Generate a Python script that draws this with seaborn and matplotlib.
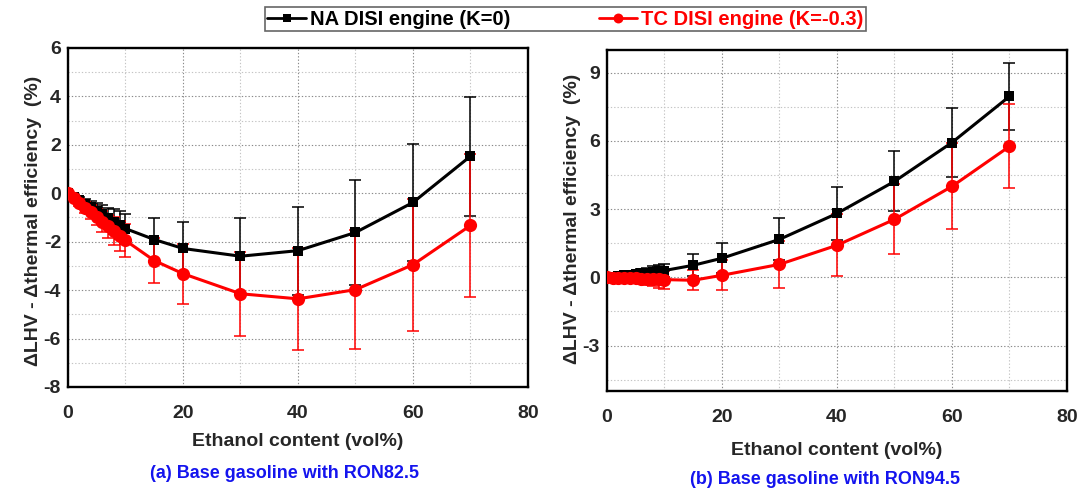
import matplotlib

matplotlib.use("Agg")
import matplotlib.pyplot as plt
import pandas as pd
import seaborn as sns
from matplotlib.lines import Line2D
from matplotlib.ticker import MultipleLocator

ethanol = [0, 1, 2, 3, 4, 5, 6, 7, 8, 9, 10, 15, 20, 30, 40, 50, 60, 70]

# (a) base gasoline RON82.5
na_a = [0, -0.15, -0.29, -0.44, -0.58, -0.73, -0.87, -1.02, -1.17, -1.31, -1.46,
        -1.91, -2.28, -2.60, -2.37, -1.62, -0.38, 1.53]
na_a_err = [0, 0.06, 0.12, 0.19, 0.25, 0.31, 0.37, 0.43, 0.50, 0.56, 0.62,
            0.87, 1.08, 1.56, 1.82, 2.15, 2.40, 2.45]
tc_a = [0, -0.20, -0.39, -0.59, -0.78, -0.98, -1.17, -1.37, -1.56, -1.76, -1.95,
        -2.78, -3.32, -4.15, -4.36, -3.98, -2.95, -1.33]
tc_a_err = [0, 0.07, 0.14, 0.21, 0.28, 0.35, 0.42, 0.49, 0.56, 0.63, 0.70,
            0.92, 1.24, 1.74, 2.11, 2.45, 2.73, 2.94]

# (b) base gasoline RON94.5
na_b = [0, 0.03, 0.06, 0.09, 0.12, 0.15, 0.18, 0.21, 0.24, 0.27, 0.30,
        0.53, 0.84, 1.67, 2.81, 4.22, 5.93, 7.96]
na_b_err = [0, 0.03, 0.06, 0.09, 0.12, 0.15, 0.18, 0.21, 0.24, 0.27, 0.30,
            0.48, 0.65, 0.92, 1.15, 1.32, 1.50, 1.49]
tc_b = [0, -0.01, -0.02, -0.03, -0.04, -0.05, -0.06, -0.07, -0.08, -0.09, -0.10,
        -0.13, 0.09, 0.57, 1.41, 2.55, 4.00, 5.76]
tc_b_err = [0, 0.04, 0.08, 0.12, 0.16, 0.20, 0.24, 0.28, 0.32, 0.36, 0.40,
            0.44, 0.66, 1.05, 1.37, 1.54, 1.89, 1.85]

series_names = ["NA DISI engine (K=0)", "TC DISI engine (K=-0.3)"]
subtitles = ["(a) Base gasoline with RON82.5", "(b) Base gasoline with RON94.5"]

sns.set_style("white")
plt.rcParams["font.family"] = ["Liberation Sans", "DejaVu Sans"]
plt.rcParams["font.weight"] = "bold"
plt.rcParams["axes.unicode_minus"] = False

fig = plt.figure(figsize=(10.81, 4.88), dpi=100)
ax_a = fig.add_axes([0.0629, 0.207, 0.4255, 0.6947])
ax_b = fig.add_axes([0.5615, 0.1988, 0.4255, 0.6987])

styles = [
    {"color": "black", "marker": "s", "ms": 7.5},
    {"color": "red", "marker": "o", "ms": 9.5},
]


def draw_panel(ax, series, ylim, ymajor, yminor):
    for (values, errors), name, style in zip(series, series_names, styles):
        frame = pd.DataFrame({"ethanol": ethanol, "value": values})
        ax.errorbar(ethanol, values, yerr=errors, fmt="none", ecolor=style["color"],
                    elinewidth=1.1, capsize=4, capthick=1.1, zorder=2)
        sns.lineplot(data=frame, x="ethanol", y="value", ax=ax, color=style["color"],
                     marker=style["marker"], markersize=style["ms"], markeredgewidth=0,
                     linewidth=2.2, label=name, legend=False, zorder=3)
    ax.set_xlim(0, 80)
    ax.set_ylim(*ylim)
    ax.xaxis.set_major_locator(MultipleLocator(20))
    ax.xaxis.set_minor_locator(MultipleLocator(10))
    ax.yaxis.set_major_locator(MultipleLocator(ymajor))
    ax.yaxis.set_minor_locator(MultipleLocator(yminor))
    ax.grid(True, which="major", color="#8a8a8a", linestyle=(0, (1.2, 1.8)), linewidth=0.8)
    ax.grid(True, which="minor", color="#c4c4c4", linestyle=(0, (1.2, 1.8)), linewidth=0.8)
    ax.set_axisbelow(True)
    ax.tick_params(axis="x", which="major", direction="out", length=6, width=1.6,
                   labelsize=14, pad=7, top=False)
    ax.tick_params(axis="x", which="minor", direction="out", length=5, width=1.6, top=False)
    ax.tick_params(axis="y", which="major", direction="in", length=6, width=1.6,
                   labelsize=14, pad=5, right=False)
    ax.tick_params(axis="y", which="minor", direction="in", length=5, width=1.6, right=False)
    for label in ax.get_xticklabels() + ax.get_yticklabels():
        label.set_fontweight("bold")
    for spine in ax.spines.values():
        spine.set_linewidth(1.7)
        spine.set_color("black")
    ax.set_xlabel("Ethanol content (vol%)", fontsize=14, fontweight="bold", va="center")
    ax.set_ylabel("\u0394LHV - \u0394thermal efficiency  (%)", fontsize=14,
                  fontweight="bold", va="center", ha="center")


draw_panel(ax_a, [(na_a, na_a_err), (tc_a, tc_a_err)], (-8, 6), 2, 1)
draw_panel(ax_b, [(na_b, na_b_err), (tc_b, tc_b_err)], (-5, 10), 3, 1.5)
ax_a.xaxis.set_label_coords(0.5, -0.160)
ax_b.xaxis.set_label_coords(0.5, -0.176)
ax_a.yaxis.set_label_coords(-0.076, 0.49)
ax_b.yaxis.set_label_coords(-0.074, 0.505)

fig.text(285 / 1081, 1 - 473 / 488, subtitles[0], color="#1414ee", fontsize=13,
         fontweight="bold", ha="center", va="center")
fig.text(825 / 1081, 1 - 479 / 488, subtitles[1], color="#1414ee", fontsize=13,
         fontweight="bold", ha="center", va="center")

handles = [
    Line2D([], [], color=s["color"], marker=s["marker"], markersize=s["ms"] * 0.75,
           markeredgewidth=0, linewidth=2)
    for s in styles
]
leg = fig.legend(handles, series_names, loc="upper center", bbox_to_anchor=(0.523, 0.985),
                 ncol=2, frameon=True, fancybox=False, edgecolor="#404040",
                 prop={"weight": "bold", "size": 14.5}, handlelength=1.9,
                 handletextpad=0.2, columnspacing=4.4, borderpad=0.12, borderaxespad=0)
leg.get_frame().set_linewidth(1.2)
for text, s in zip(leg.get_texts(), styles):
    text.set_color(s["color"])

fig.savefig("out.png", dpi=100)
